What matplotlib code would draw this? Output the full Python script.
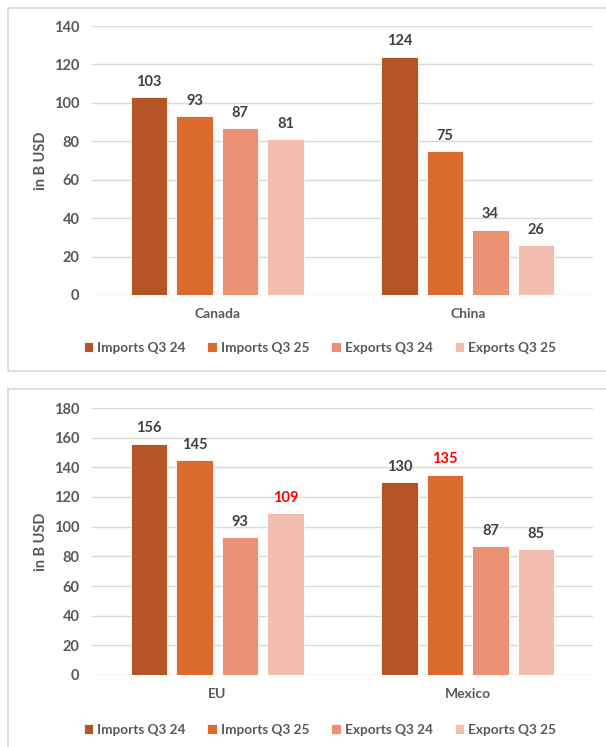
import numpy as np
import matplotlib.pyplot as plt
from matplotlib.patches import Rectangle

plt.rcParams['font.family'] = ['Lato', 'DejaVu Sans']

series = ['Imports Q3 24', 'Imports Q3 25', 'Exports Q3 24', 'Exports Q3 25']
colors = ['#B55526', '#DA6A2D', '#EB9274', '#F3BDB0']

top_regions = ['Canada', 'China']
top_values = [
    [103, 124],
    [93, 75],
    [87, 34],
    [81, 26],
]

bottom_regions = ['EU', 'Mexico']
bottom_values = [
    [156, 130],
    [145, 135],
    [93, 87],
    [109, 85],
]
# labels highlighted in red: (series index, region index)
bottom_highlight = [(3, 0), (1, 1)]

W, H = 606, 747
fig = plt.figure(figsize=(W / 100, H / 100), dpi=100)

# panel frames
for y0, y1 in [(8, 371), (389, 760)]:
    fig.patches.append(Rectangle((8 / W, 1 - y1 / H), 1.0, (y1 - y0) / H,
                                 transform=fig.transFigure, fill=False,
                                 edgecolor='#D9D9D9', linewidth=1.2))


def draw_panel(ax, regions, values, ymax, highlight, legend_y):
    x = np.arange(len(regions))
    slot = 0.1816
    width = 0.145
    for i, (name, vals) in enumerate(zip(series, values)):
        offs = (i - 1.5) * slot
        ax.bar(x + offs, vals, width, color=colors[i], label=name,
               edgecolor='white', linewidth=0.6, zorder=3)
        for j, v in enumerate(vals):
            c = '#FF0000' if (i, j) in highlight else '#404040'
            ax.annotate(f'{v}', (x[j] + offs, v), xytext=(0, 6),
                        textcoords='offset points', ha='center', va='bottom',
                        fontsize=10.5, fontweight='bold', color=c)
    ax.set_xlim(-0.5, len(regions) - 0.5)
    ax.set_ylim(0, ymax)
    ax.set_yticks(np.arange(0, ymax + 1, 20))
    ax.set_xticks(x)
    ax.set_xticklabels(regions)
    ax.tick_params(axis='both', length=0, labelsize=10.5, labelcolor='#595959')
    ax.tick_params(axis='x', pad=9, labelsize=10)
    ax.tick_params(axis='y', pad=9)
    for lab in ax.get_xticklabels() + ax.get_yticklabels():
        lab.set_fontweight('bold')
    for s in ax.spines.values():
        s.set_visible(False)
    ax.grid(True, axis='y', color='#D9D9D9', linewidth=1.0, zorder=0)
    ax.set_axisbelow(True)
    ax.set_ylabel('in B USD', fontsize=10.5, fontweight='bold', color='#595959')
    ax.yaxis.set_label_coords(-0.088, 0.5)
    ax.legend(loc='center', bbox_to_anchor=(0.528, legend_y), bbox_transform=fig.transFigure,
              ncol=4, frameon=False, handlelength=0.7, handleheight=0.7,
              handletextpad=0.3, columnspacing=1.6, labelcolor='#595959',
              prop={'weight': 'bold', 'size': 9.8})


ax1 = fig.add_axes([92 / W, 1 - 295 / H, 501 / W, 269 / H])
draw_panel(ax1, top_regions, top_values, 140, [], 1 - 348 / H)

ax2 = fig.add_axes([92 / W, 1 - 675 / H, 501 / W, 267 / H])
draw_panel(ax2, bottom_regions, bottom_values, 180, bottom_highlight, 1 - 730 / H)

fig.savefig('out.png', dpi=100)
plt.close(fig)
